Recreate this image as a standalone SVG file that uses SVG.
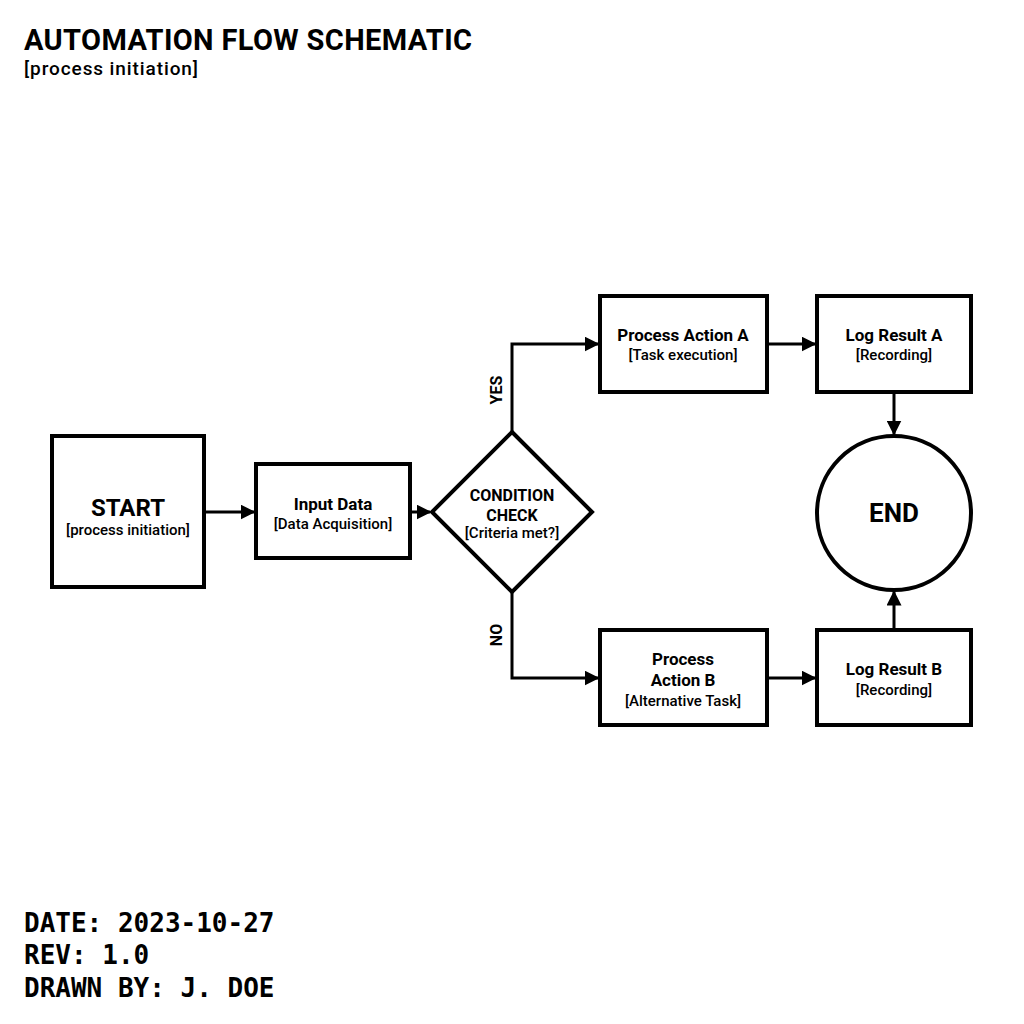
<svg xmlns="http://www.w3.org/2000/svg" width="1024" height="1024" viewBox="0 0 1024 1024">
<style>
.n{fill:#fff;stroke:#000;stroke-width:4}
.t{font-family:Roboto,"Liberation Sans",sans-serif;font-weight:bold;fill:#000;text-anchor:middle}
.s{font-family:Roboto,"Liberation Sans",sans-serif;font-weight:500;fill:#000;text-anchor:middle;font-size:15px}
.c{fill:none;stroke:#000;stroke-width:3;marker-end:url(#a)}
.m{font-family:"DejaVu Sans Mono","Liberation Mono",monospace;font-size:26px;font-weight:bold;fill:#000}
</style>
<defs><marker id="a" viewBox="0 0 10 10" refX="9" refY="5" markerWidth="5" markerHeight="5" orient="auto" markerUnits="strokeWidth"><path d="M0,0L10,5L0,10z" fill="#000"/></marker></defs>
<rect width="1024" height="1024" fill="#fff"/>
<text x="24" y="50" font-family="Roboto,'Liberation Sans',sans-serif" font-weight="bold" font-size="29" textLength="448">AUTOMATION FLOW SCHEMATIC</text>
<text x="24" y="75" font-family="Roboto,'Liberation Sans',sans-serif" font-weight="500" font-size="19" textLength="174">[process initiation]</text>
<g id="connectors">
<path class="c" d="M204,512H254"/>
<path class="c" d="M410,512H430"/>
<path class="c" d="M512,432V344H598"/>
<path class="c" d="M512,592V678H598"/>
<path class="c" d="M767,344H815"/>
<path class="c" d="M767,678H815"/>
<path class="c" d="M894,392V434"/>
<path class="c" d="M894,630V592"/>
<text class="t" font-size="16" transform="translate(502,390) rotate(-90)">YES</text>
<text class="t" font-size="16" transform="translate(502,635) rotate(-90)">NO</text>
</g>
<g id="start"><rect class="n" x="52" y="436" width="152" height="151"/><text class="t" x="128" y="516" font-size="24">START</text><text class="s" x="128" y="535">[process initiation]</text></g>
<g id="input"><rect class="n" x="256" y="464" width="154" height="94"/><text class="t" x="333" y="510" font-size="17">Input Data</text><text class="s" x="333" y="529">[Data Acquisition]</text></g>
<g id="cond"><path class="n" d="M512,432L592,512L512,592L432,512z"/><text class="t" x="512" y="501" font-size="16">CONDITION</text><text class="t" x="512" y="521" font-size="16">CHECK</text><text class="s" x="512" y="538" font-size="13">[Criteria met?]</text></g>
<g id="pa"><rect class="n" x="600" y="296" width="167" height="96"/><text class="t" x="683" y="341" font-size="17">Process Action A</text><text class="s" x="683" y="360">[Task execution]</text></g>
<g id="la"><rect class="n" x="817" y="296" width="154" height="96"/><text class="t" x="894" y="341" font-size="17">Log Result A</text><text class="s" x="894" y="360">[Recording]</text></g>
<g id="end"><circle class="n" cx="894" cy="513" r="77"/><text class="t" x="894" y="522" font-size="26">END</text></g>
<g id="pb"><rect class="n" x="600" y="630" width="167" height="95"/><text class="t" x="683" y="665" font-size="17">Process</text><text class="t" x="683" y="686" font-size="17">Action B</text><text class="s" x="683" y="706">[Alternative Task]</text></g>
<g id="lb"><rect class="n" x="817" y="630" width="154" height="95"/><text class="t" x="894" y="675" font-size="17">Log Result B</text><text class="s" x="894" y="695">[Recording]</text></g>
<text class="m" x="24" y="932">DATE: 2023-10-27</text>
<text class="m" x="24" y="964">REV: 1.0</text>
<text class="m" x="24" y="997">DRAWN BY: J. DOE</text>
</svg>
